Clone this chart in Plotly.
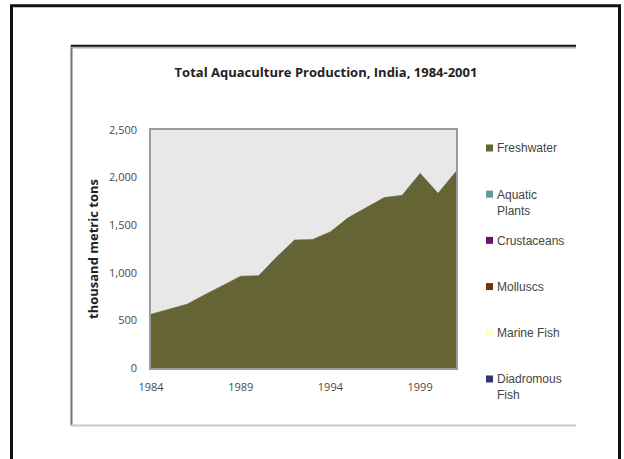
import plotly.graph_objects as go

# Annual aquaculture production, India (thousand metric tons)
years = list(range(1984, 2002))
freshwater = [565, 615, 670, 770, 870, 965, 970, 1165, 1345, 1350,
              1430, 1580, 1685, 1790, 1815, 2045, 1835, 2065]
aquatic_plants = [0] * len(years)
crustaceans = [0] * len(years)
molluscs = [0] * len(years)
marine_fish = [0] * len(years)
diadromous_fish = [0] * len(years)

# Stack order bottom -> top; the legend lists the top layer first
series = [
    ("Diadromous<br>Fish", diadromous_fish, "#333378"),
    ("Marine Fish", marine_fish, "#ffffcc"),
    ("Molluscs", molluscs, "#6e3510"),
    ("Crustaceans", crustaceans, "#6e0f6e"),
    ("Aquatic<br>Plants", aquatic_plants, "#5f9ea0"),
    ("Freshwater", freshwater, "#646434"),
]
x_ticks = [1984, 1989, 1994, 1999]
y_ticks = [0, 500, 1000, 1500, 2000, 2500]

W, H = 624, 459
L, R, T, B = 151, 456, 130, 368.5


def px_x(px):
    return (px - L) / (R - L)


def px_y(py):
    return (B - py) / (B - T)


fig = go.Figure()
for name, vals, color in series:
    fig.add_trace(go.Scatter(
        x=years, y=vals, name=name.replace("<br>", " "),
        stackgroup="total", mode="lines",
        line=dict(width=0.5 if vals is freshwater else 0, color=color),
        fillcolor=color, showlegend=False,
    ))

shapes = [
    # outer black frame
    dict(type="rect", xref="paper", yref="paper",
         x0=px_x(11.5), x1=px_x(619.5), y0=px_y(5.5), y1=px_y(480),
         line=dict(color="#111111", width=3), fillcolor="rgba(0,0,0,0)", layer="below"),
    # inner chart frame
    dict(type="line", xref="paper", yref="paper",
         x0=px_x(71.5), x1=px_x(71.5), y0=px_y(45), y1=px_y(426),
         line=dict(color="#707070", width=2)),
    dict(type="line", xref="paper", yref="paper",
         x0=px_x(71), x1=px_x(576), y0=px_y(47.5), y1=px_y(47.5),
         line=dict(color="#b0b0b0", width=1.5)),
    dict(type="line", xref="paper", yref="paper",
         x0=px_x(71), x1=px_x(576), y0=px_y(45.5), y1=px_y(45.5),
         line=dict(color="#111111", width=2)),
    dict(type="line", xref="paper", yref="paper",
         x0=px_x(71), x1=px_x(576), y0=px_y(426), y1=px_y(426),
         line=dict(color="#c8c8c8", width=2)),
]

annotations = []
# legend: top layer first, one entry every ~46 px
legend_top = 148
legend_step = 46.3
for i, (name, vals, color) in enumerate(reversed(series)):
    cy = legend_top + i * legend_step
    shapes.append(dict(
        type="rect", xref="paper", yref="paper",
        x0=px_x(486), x1=px_x(493), y0=px_y(cy - 3.5), y1=px_y(cy + 3.5),
        fillcolor=color, line=dict(width=0),
    ))
    annotations.append(dict(
        xref="paper", yref="paper", x=px_x(495), y=px_y(cy - 8.5),
        xanchor="left", yanchor="top", align="left", showarrow=False,
        text=name, font=dict(family="Liberation Sans, Arial", size=12, color="#444444"),
    ))

fig.update_layout(
    width=W, height=H, autosize=False,
    margin=dict(l=L, r=W - R, t=T, b=H - B, pad=0),
    paper_bgcolor="white", plot_bgcolor="#e8e8e8",
    showlegend=False,
    title=dict(
        text="<b>Total Aquaculture Production, India, 1984-2001</b>",
        x=326 / W, xanchor="center", xref="container",
        y=1 - 72 / H, yanchor="middle", yref="container",
        font=dict(family="Open Sans", size=13, color="#222222"),
    ),
    xaxis=dict(
        range=[1984, 2001], tickvals=x_ticks, ticktext=[str(v) for v in x_ticks],
        showgrid=False, zeroline=False,
        showline=True, linecolor="#9a9a9a", linewidth=1.5, mirror=True,
        ticks="outside", ticklen=8, tickcolor="rgba(0,0,0,0)",
        tickfont=dict(family="Open Sans", size=11, color="#4a4a4a"),
    ),
    yaxis=dict(
        range=[0, 2500], tickvals=y_ticks, tickformat=",",
        showgrid=False, zeroline=False,
        showline=True, linecolor="#9a9a9a", linewidth=1.5, mirror=True,
        ticks="outside", ticklen=10, tickcolor="rgba(0,0,0,0)",
        tickfont=dict(family="Open Sans", size=11, color="#4a4a4a"),
        title=dict(text="<b>thousand metric tons</b>", standoff=7,
                   font=dict(family="Open Sans", size=13, color="#222222")),
    ),
    shapes=shapes,
    annotations=annotations,
)

fig.write_html("out.html")
